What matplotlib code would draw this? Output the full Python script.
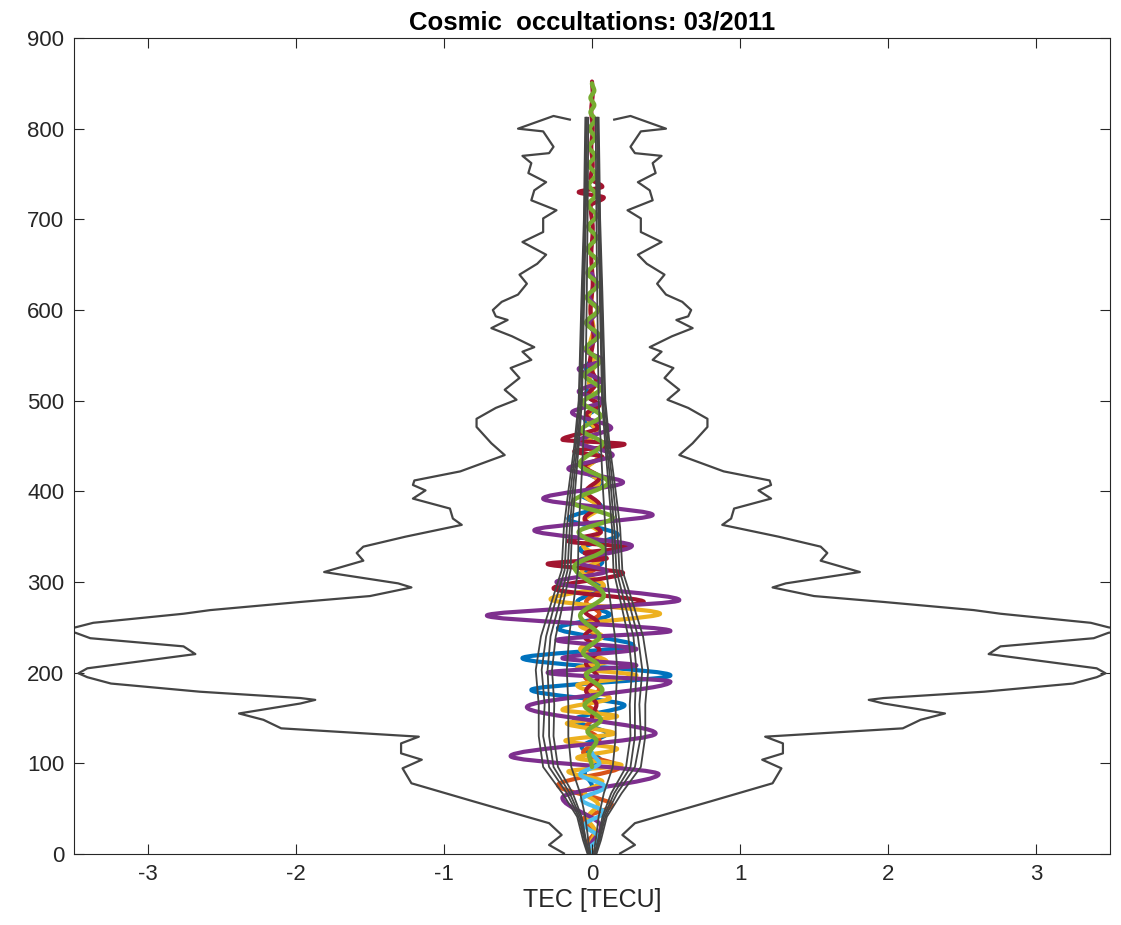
import matplotlib
matplotlib.use("Agg")
import matplotlib.pyplot as plt
from matplotlib.path import Path
from matplotlib.patches import PathPatch

plt.rcParams["font.family"] = ["Liberation Sans", "DejaVu Sans"]
plt.rcParams["axes.unicode_minus"] = False

# outer TEC envelope, left half (altitude km, TEC); right half is its mirror
env_alt = [810, 814, 800, 797, 780, 773, 770, 762, 751, 741, 732, 721, 710, 701, 686,
           675, 661, 651, 639, 629, 617, 609, 600, 593, 589, 580, 571, 559, 554, 545,
           536, 525, 512, 501, 492, 480, 471, 453, 440, 422, 412, 407, 401, 392, 381,
           370, 363, 350, 339, 332, 323.5, 311, 298.5, 294, 284.5, 278, 269, 265, 255,
           250, 247, 244, 238, 229, 220.5, 204.8, 199.3, 195, 188, 179, 172, 170, 166,
           155, 148, 138.6, 129.4, 122, 111, 104, 94.5, 78, 58, 34, 21, 10, 0.7]
env_tec = [-0.15, -0.26, -0.50, -0.33, -0.26, -0.29, -0.47, -0.41, -0.43, -0.31, -0.39,
           -0.41, -0.24, -0.33, -0.33, -0.47, -0.31, -0.37, -0.49, -0.44, -0.50, -0.61,
           -0.67, -0.65, -0.57, -0.68, -0.54, -0.39, -0.47, -0.41, -0.55, -0.49, -0.59,
           -0.51, -0.65, -0.78, -0.78, -0.68, -0.59, -0.89, -1.20, -1.21, -1.125, -1.21,
           -0.96, -0.94, -0.88, -1.26, -1.545, -1.59, -1.545, -1.81, -1.31, -1.22, -1.50,
           -1.97, -2.58, -2.76, -3.37, -3.49, -3.62, -3.49, -3.39, -2.76, -2.68, -3.41,
           -3.47, -3.41, -3.25, -2.65, -1.97, -1.87, -1.97, -2.385, -2.22, -2.10, -1.17,
           -1.29, -1.29, -1.15, -1.28, -1.22, -0.80, -0.29, -0.205, -0.29, -0.19]

# mean-spread bundle, half widths at the bundle altitudes
bundle_alt = [0, 15, 41, 67, 96, 130, 165, 203, 240, 277, 313, 360, 400, 450, 500,
              560, 620, 700, 760, 812]
bundle_w1 = [0.03, 0.06, 0.10, 0.20, 0.33, 0.36, 0.36, 0.38, 0.345, 0.275, 0.205, 0.19,
             0.16, 0.12, 0.09, 0.08, 0.07, 0.055, 0.05, 0.045]
bundle_w2 = [0.025, 0.05, 0.09, 0.17, 0.29, 0.33, 0.32, 0.34, 0.31, 0.25, 0.185, 0.17,
             0.145, 0.11, 0.085, 0.075, 0.065, 0.05, 0.045, 0.04]
bundle_w3 = [0.02, 0.045, 0.08, 0.15, 0.26, 0.29, 0.29, 0.30, 0.28, 0.22, 0.165, 0.15,
             0.13, 0.10, 0.075, 0.065, 0.058, 0.046, 0.04, 0.037]
bundle_w4 = [0.015, 0.04, 0.07, 0.13, 0.23, 0.26, 0.255, 0.27, 0.245, 0.195, 0.145,
             0.135, 0.115, 0.09, 0.068, 0.06, 0.052, 0.042, 0.037, 0.034]
bundle_w5 = [0.01, 0.025, 0.045, 0.08, 0.14, 0.16, 0.16, 0.17, 0.155, 0.125, 0.095,
             0.09, 0.075, 0.06, 0.045, 0.04, 0.035, 0.03, 0.027, 0.025]

# single occultations: turning points (altitude km, TEC)
blue_alt = [548, 535, 522, 508, 494, 480, 466, 452, 438, 424, 410, 396, 384, 370, 352,
            336, 322, 308, 294, 278, 264, 249, 230, 216, 197, 181, 164, 148, 133, 118,
            103, 90, 75]
blue_tec = [0.0, -0.04, 0.03, -0.04, 0.04, -0.05, 0.04, -0.05, 0.05, -0.06, 0.06, -0.07,
            0.06, -0.16, 0.175, -0.08, 0.07, -0.06, 0.08, -0.1, 0.12, -0.23, 0.28, -0.47,
            0.53, -0.41, 0.22, -0.12, 0.1, -0.07, 0.06, -0.05, 0.0]

orange_alt = [330, 318, 305, 292, 278, 265, 252, 238, 224, 210, 196, 182, 168, 154, 140,
              126, 112, 96, 76, 54, 38, 25, 12, 0]
orange_tec = [0.0, 0.04, -0.05, 0.05, -0.04, 0.05, -0.05, 0.04, -0.04, 0.05, -0.05, 0.05,
              -0.05, 0.04, -0.04, 0.05, -0.06, 0.19, -0.23, 0.135, -0.06, 0.02, -0.03, 0.0]

yellow_alt = [620, 600, 580, 560, 540, 520, 500, 480, 466, 452, 438, 424, 410, 396, 382,
              368, 354, 340, 326, 312, 296, 281, 265, 252, 240, 226, 212, 205, 197, 186,
              172, 159, 152, 144, 133, 125, 116, 106, 98, 91, 80, 68, 55, 40, 25, 10, 0]
yellow_tec = [0.0, -0.01, 0.01, -0.015, 0.015, -0.02, 0.02, -0.025, 0.03, -0.04, 0.04,
              -0.04, 0.05, -0.05, 0.05, -0.05, 0.05, -0.06, 0.06, -0.07, 0.08, -0.28, 0.46,
              -0.08, 0.07, -0.08, 0.1, -0.1, 0.3, -0.1, 0.12, -0.2, 0.17, -0.17, 0.15,
              -0.18, 0.17, -0.1, 0.2, -0.16, 0.07, -0.05, 0.04, -0.03, 0.02, -0.01, 0.0]

purple_alt = [640, 628, 615, 600, 585, 570, 555, 545, 535, 522, 510, 500, 487, 470, 455,
              440, 425, 410, 392, 374, 357, 340, 322, 312, 300, 280, 263, 246, 236, 226,
              216, 208, 200, 190, 162, 133, 108, 88, 62, 30, 5]
purple_tec = [0.0, 0.035, -0.02, 0.04, -0.02, 0.03, -0.04, 0.07, -0.09, 0.06, -0.09, 0.08,
              -0.135, 0.13, -0.1, 0.14, -0.16, 0.21, -0.33, 0.41, -0.39, 0.27, -0.1, 0.1,
              -0.24, 0.59, -0.71, 0.53, -0.24, 0.3, -0.2, 0.3, -0.3, 0.53, -0.44, 0.43,
              -0.55, 0.45, -0.2, 0.06, -0.02]

green_alt = [850, 842, 834, 826, 818, 810, 800, 790, 780, 770, 760, 749, 738, 727, 716,
             704, 692, 680, 667, 654, 641, 628, 614, 600, 586, 572, 558, 543, 528, 513,
             498, 483, 468, 453, 430, 410, 388, 371, 355, 336, 317, 285, 263, 240, 222,
             208, 198, 181, 164, 148, 135, 125, 110, 96]
green_tec = [0.0, 0.015, -0.01, 0.015, -0.01, 0.02, -0.015, 0.02, -0.02, 0.02, -0.02,
             0.025, -0.02, 0.025, -0.025, 0.03, -0.025, 0.03, -0.03, 0.035, -0.03, 0.04,
             -0.035, 0.04, -0.04, 0.045, -0.04, 0.05, -0.05, 0.055, -0.06, 0.06, -0.07,
             0.07, -0.085, 0.11, -0.13, 0.14, -0.09, 0.08, -0.12, 0.08, -0.08, 0.05, -0.06,
             0.04, -0.04, 0.07, -0.05, 0.06, -0.03, 0.03, -0.02, 0.0]

lightblue_alt = [112, 100, 88, 74, 60, 46, 32, 18, 5, 0]
lightblue_tec = [0.0, 0.05, -0.08, 0.09, -0.07, 0.08, -0.05, 0.05, -0.02, 0.0]

red_alt = [852, 840, 820, 800, 780, 760, 745, 736, 730, 724, 715, 690, 660, 630, 600,
           570, 540, 520, 505, 495, 485, 470, 457, 452, 444, 438, 428, 415, 400, 385,
           370, 355, 345, 338, 332, 326, 320, 310, 293, 278, 268, 255, 240, 225, 210,
           195, 180, 165, 150]
red_tec = [0.0, 0.005, -0.005, 0.005, -0.005, 0.005, -0.01, 0.07, -0.09, 0.08, -0.01, 0.005,
           -0.005, 0.005, -0.01, 0.01, -0.015, 0.03, -0.03, 0.05, -0.04, 0.04, -0.2, 0.22,
           -0.12, 0.07, -0.05, 0.05, -0.04, 0.05, -0.05, 0.06, -0.16, 0.24, -0.05, 0.1,
           -0.3, 0.21, -0.26, 0.35, -0.05, 0.04, -0.05, 0.05, -0.04, 0.04, -0.04, 0.03, 0.0]

AX_COLOR = "#262626"
GRAY = "#454545"


def wave_path(alt, tec):
    # cubic segments between turning points, tangent vertical at each turn
    verts = [(tec[0], alt[0])]
    codes = [Path.MOVETO]
    for i in range(len(alt) - 1):
        d = (alt[i + 1] - alt[i]) / 3.0
        verts += [(tec[i], alt[i] + d), (tec[i + 1], alt[i + 1] - d), (tec[i + 1], alt[i + 1])]
        codes += [Path.CURVE4] * 3
    return Path(verts, codes)


fig = plt.figure(figsize=(11.21, 9.25), dpi=100)
ax = fig.add_axes([74 / 1121, 71 / 925, 1036 / 1121, 816 / 925])

ax.plot(env_tec, env_alt, color=GRAY, lw=1.6)
ax.plot([-t for t in env_tec], env_alt, color=GRAY, lw=1.6)

for w in [bundle_w1, bundle_w2, bundle_w3, bundle_w4, bundle_w5]:
    ax.plot(w, bundle_alt, color=GRAY, lw=1.3)
    ax.plot([-v for v in w], bundle_alt, color=GRAY, lw=1.3)

# drawing order: later ones sit on top
series = [
    (blue_alt, blue_tec, "#0072BD", 3.0),
    (orange_alt, orange_tec, "#D95319", 3.0),
    (yellow_alt, yellow_tec, "#EDB120", 3.0),
    (red_alt, red_tec, "#A2142F", 3.0),
    (purple_alt, purple_tec, "#7E2F8E", 3.0),
    (lightblue_alt, lightblue_tec, "#4DBEEE", 3.0),
    (green_alt, green_tec, "#77AC30", 3.2),
]
for alt, tec, color, lw in series:
    patch = PathPatch(wave_path(alt, tec), fill=False, edgecolor=color, lw=lw,
                      capstyle="round", joinstyle="round")
    ax.add_patch(patch)

ax.set_xlim(-3.5, 3.5)
ax.set_ylim(0, 900)
ax.set_xticks(range(-3, 4))
ax.set_yticks(range(0, 901, 100))
ax.tick_params(direction="in", length=7.5, width=0.8, top=True, right=True,
               labelsize=16, colors=AX_COLOR, pad=7)
for sp in ax.spines.values():
    sp.set_color(AX_COLOR)
    sp.set_linewidth(0.8)

ax.set_xlabel("TEC [TECU]", fontsize=18, color=AX_COLOR, labelpad=2)
ax.set_title("Cosmic  occultations: 03/2011", fontsize=18.5, fontweight="bold",
             color="black", pad=6)

fig.savefig("out.png", dpi=100)
